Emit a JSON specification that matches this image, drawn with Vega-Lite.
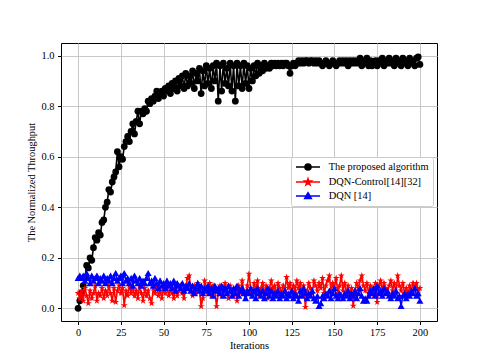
{
"$schema": "https://vega.github.io/schema/vega-lite/v6.json",
"width": 376, "height": 278,
"autosize": {"type": "none"},
"padding": {"left": 61, "top": 43, "right": 48, "bottom": 40},
"background": "white",
"config": {"font": "Liberation Serif", "view": {"stroke": "black", "strokeWidth": 1}},
"data": {"values": [
{"x":0,"p":0.00,"c":0.06,"d":0.12},{"x":1,"p":0.03,"c":0.04,"d":0.13},{"x":2,"p":0.06,"c":0.07,"d":0.12},{"x":3,"p":0.09,"c":0.03,"d":0.13},{"x":4,"p":0.12,"c":0.08,"d":0.11},
{"x":5,"p":0.17,"c":0.05,"d":0.14},{"x":6,"p":0.16,"c":0.02,"d":0.12},{"x":7,"p":0.20,"c":0.07,"d":0.10},{"x":8,"p":0.19,"c":0.04,"d":0.13},{"x":9,"p":0.24,"c":0.06,"d":0.11},
{"x":10,"p":0.28,"c":0.09,"d":0.12},{"x":11,"p":0.27,"c":0.03,"d":0.13},{"x":12,"p":0.30,"c":0.06,"d":0.10},{"x":13,"p":0.29,"c":0.05,"d":0.12},{"x":14,"p":0.34,"c":0.08,"d":0.11},
{"x":15,"p":0.35,"c":0.04,"d":0.13},{"x":16,"p":0.40,"c":0.07,"d":0.10},{"x":17,"p":0.42,"c":0.05,"d":0.12},{"x":18,"p":0.47,"c":0.09,"d":0.11},{"x":19,"p":0.46,"c":0.06,"d":0.13},
{"x":20,"p":0.50,"c":0.03,"d":0.10},{"x":21,"p":0.52,"c":0.08,"d":0.12},{"x":22,"p":0.54,"c":0.025,"d":0.14},{"x":23,"p":0.62,"c":0.07,"d":0.11},{"x":24,"p":0.56,"c":0.09,"d":0.12},
{"x":25,"p":0.60,"c":0.06,"d":0.13},{"x":26,"p":0.59,"c":0.08,"d":0.10},{"x":27,"p":0.64,"c":0.012,"d":0.14},{"x":28,"p":0.66,"c":0.07,"d":0.11},{"x":29,"p":0.68,"c":0.05,"d":0.12},
{"x":30,"p":0.66,"c":0.09,"d":0.10},{"x":31,"p":0.70,"c":0.06,"d":0.12},{"x":32,"p":0.73,"c":0.08,"d":0.09},{"x":33,"p":0.69,"c":0.05,"d":0.13},{"x":34,"p":0.74,"c":0.07,"d":0.11},
{"x":35,"p":0.78,"c":0.04,"d":0.10},{"x":36,"p":0.73,"c":0.09,"d":0.12},{"x":37,"p":0.78,"c":0.06,"d":0.09},{"x":38,"p":0.77,"c":0.03,"d":0.11},{"x":39,"p":0.79,"c":0.08,"d":0.10},
{"x":40,"p":0.78,"c":0.05,"d":0.12},{"x":41,"p":0.82,"c":0.07,"d":0.14},{"x":42,"p":0.81,"c":0.04,"d":0.10},{"x":43,"p":0.83,"c":0.02,"d":0.11},{"x":44,"p":0.82,"c":0.08,"d":0.09},
{"x":45,"p":0.84,"c":0.06,"d":0.12},{"x":46,"p":0.86,"c":0.09,"d":0.10},{"x":47,"p":0.83,"c":0.05,"d":0.08},{"x":48,"p":0.85,"c":0.07,"d":0.11},{"x":49,"p":0.86,"c":0.04,"d":0.09},
{"x":50,"p":0.84,"c":0.08,"d":0.10},{"x":51,"p":0.87,"c":0.06,"d":0.08},{"x":52,"p":0.86,"c":0.09,"d":0.11},{"x":53,"p":0.88,"c":0.05,"d":0.09},{"x":54,"p":0.85,"c":0.07,"d":0.10},
{"x":55,"p":0.89,"c":0.06,"d":0.08},{"x":56,"p":0.87,"c":0.04,"d":0.11},{"x":57,"p":0.90,"c":0.08,"d":0.07},{"x":58,"p":0.86,"c":0.05,"d":0.10},{"x":59,"p":0.91,"c":0.07,"d":0.09},
{"x":60,"p":0.88,"c":0.09,"d":0.08},{"x":61,"p":0.92,"c":0.06,"d":0.10},{"x":62,"p":0.87,"c":0.04,"d":0.07},{"x":63,"p":0.93,"c":0.08,"d":0.09},{"x":64,"p":0.88,"c":0.12,"d":0.08},
{"x":65,"p":0.92,"c":0.13,"d":0.10},{"x":66,"p":0.89,"c":0.07,"d":0.07},{"x":67,"p":0.94,"c":0.05,"d":0.09},{"x":68,"p":0.87,"c":0.09,"d":0.06},{"x":69,"p":0.93,"c":0.06,"d":0.08},
{"x":70,"p":0.90,"c":0.10,"d":0.10},{"x":71,"p":0.95,"c":0.07,"d":0.07},{"x":72,"p":0.85,"c":0.008,"d":0.09},{"x":73,"p":0.94,"c":0.04,"d":0.06},{"x":74,"p":0.88,"c":0.11,"d":0.08},
{"x":75,"p":0.96,"c":0.08,"d":0.07},{"x":76,"p":0.89,"c":0.06,"d":0.09},{"x":77,"p":0.95,"c":0.10,"d":0.06},{"x":78,"p":0.87,"c":0.05,"d":0.08},{"x":79,"p":0.96,"c":0.09,"d":0.05},
{"x":80,"p":0.90,"c":0.07,"d":0.09},{"x":81,"p":0.97,"c":0.008,"d":0.07},{"x":82,"p":0.82,"c":0.06,"d":0.08},{"x":83,"p":0.96,"c":0.09,"d":0.06},{"x":84,"p":0.86,"c":0.05,"d":0.09},
{"x":85,"p":0.97,"c":0.08,"d":0.05},{"x":86,"p":0.89,"c":0.10,"d":0.08},{"x":87,"p":0.95,"c":0.06,"d":0.06},{"x":88,"p":0.88,"c":0.04,"d":0.09},{"x":89,"p":0.97,"c":0.09,"d":0.07},
{"x":90,"p":0.86,"c":0.07,"d":0.05},{"x":91,"p":0.96,"c":0.05,"d":0.08},{"x":92,"p":0.82,"c":0.08,"d":0.06},{"x":93,"p":0.97,"c":0.03,"d":0.09},{"x":94,"p":0.88,"c":0.09,"d":0.05},
{"x":95,"p":0.96,"c":0.06,"d":0.07},{"x":96,"p":0.87,"c":0.11,"d":0.08},{"x":97,"p":0.97,"c":0.07,"d":0.06},{"x":98,"p":0.89,"c":0.05,"d":0.04},{"x":99,"p":0.96,"c":0.09,"d":0.07},
{"x":100,"p":0.87,"c":0.137,"d":0.06},{"x":101,"p":0.95,"c":0.08,"d":0.08},{"x":102,"p":0.90,"c":0.06,"d":0.05},{"x":103,"p":0.96,"c":0.10,"d":0.07},{"x":104,"p":0.92,"c":0.07,"d":0.04},
{"x":105,"p":0.97,"c":0.11,"d":0.08},{"x":106,"p":0.93,"c":0.05,"d":0.06},{"x":107,"p":0.96,"c":0.08,"d":0.05},{"x":108,"p":0.94,"c":0.10,"d":0.07},{"x":109,"p":0.97,"c":0.06,"d":0.04},
{"x":110,"p":0.95,"c":0.09,"d":0.06},{"x":111,"p":0.96,"c":0.04,"d":0.08},{"x":112,"p":0.95,"c":0.08,"d":0.05},{"x":113,"p":0.97,"c":0.11,"d":0.07},{"x":114,"p":0.96,"c":0.07,"d":0.04},
{"x":115,"p":0.97,"c":0.09,"d":0.06},{"x":116,"p":0.96,"c":0.05,"d":0.05},{"x":117,"p":0.97,"c":0.10,"d":0.07},{"x":118,"p":0.96,"c":0.08,"d":0.04},{"x":119,"p":0.97,"c":0.06,"d":0.06},
{"x":120,"p":0.96,"c":0.09,"d":0.05},{"x":121,"p":0.97,"c":0.07,"d":0.07},{"x":122,"p":0.97,"c":0.124,"d":0.04},{"x":123,"p":0.96,"c":0.08,"d":0.06},{"x":124,"p":0.93,"c":0.10,"d":0.05},
{"x":125,"p":0.96,"c":0.06,"d":0.07},{"x":126,"p":0.97,"c":0.09,"d":0.04},{"x":127,"p":0.96,"c":0.07,"d":0.06},{"x":128,"p":0.97,"c":0.11,"d":0.05},{"x":129,"p":0.98,"c":0.08,"d":0.03},
{"x":130,"p":0.97,"c":0.10,"d":0.07},{"x":131,"p":0.98,"c":0.06,"d":0.05},{"x":132,"p":0.97,"c":0.09,"d":0.08},{"x":133,"p":0.98,"c":0.005,"d":0.06},{"x":134,"p":0.98,"c":0.07,"d":0.04},
{"x":135,"p":0.97,"c":0.10,"d":0.06},{"x":136,"p":0.98,"c":0.08,"d":0.05},{"x":137,"p":0.98,"c":0.06,"d":0.07},{"x":138,"p":0.97,"c":0.11,"d":0.04},{"x":139,"p":0.98,"c":0.09,"d":0.03},
{"x":140,"p":0.97,"c":0.07,"d":0.05},{"x":141,"p":0.98,"c":0.10,"d":0.01},{"x":142,"p":0.97,"c":0.08,"d":0.02},{"x":143,"p":0.96,"c":0.12,"d":0.05},{"x":144,"p":0.97,"c":0.06,"d":0.04},
{"x":145,"p":0.98,"c":0.09,"d":0.06},{"x":146,"p":0.97,"c":0.11,"d":0.05},{"x":147,"p":0.96,"c":0.13,"d":0.07},{"x":148,"p":0.97,"c":0.07,"d":0.04},{"x":149,"p":0.98,"c":0.10,"d":0.06},
{"x":150,"p":0.97,"c":0.08,"d":0.08},{"x":151,"p":0.96,"c":0.12,"d":0.05},{"x":152,"p":0.97,"c":0.06,"d":0.04},{"x":153,"p":0.98,"c":0.09,"d":0.06},{"x":154,"p":0.97,"c":0.13,"d":0.05},
{"x":155,"p":0.98,"c":0.07,"d":0.04},{"x":156,"p":0.97,"c":0.10,"d":0.06},{"x":157,"p":0.98,"c":0.06,"d":0.05},{"x":158,"p":0.96,"c":0.09,"d":0.07},{"x":159,"p":0.98,"c":0.05,"d":0.04},
{"x":160,"p":0.97,"c":0.08,"d":0.06},{"x":161,"p":0.98,"c":0.01,"d":0.05},{"x":162,"p":0.97,"c":0.07,"d":0.07},{"x":163,"p":0.98,"c":0.10,"d":0.04},{"x":164,"p":0.97,"c":0.08,"d":0.06},
{"x":165,"p":0.99,"c":0.11,"d":0.08},{"x":166,"p":0.96,"c":0.13,"d":0.05},{"x":167,"p":0.98,"c":0.09,"d":0.03},{"x":168,"p":0.97,"c":0.07,"d":0.04},{"x":169,"p":0.99,"c":0.10,"d":0.03},
{"x":170,"p":0.96,"c":0.06,"d":0.05},{"x":171,"p":0.98,"c":0.09,"d":0.07},{"x":172,"p":0.96,"c":0.08,"d":0.06},{"x":173,"p":0.97,"c":0.05,"d":0.08},{"x":174,"p":0.98,"c":0.10,"d":0.05},
{"x":175,"p":0.96,"c":0.025,"d":0.09},{"x":176,"p":0.98,"c":0.09,"d":0.06},{"x":177,"p":0.97,"c":0.11,"d":0.07},{"x":178,"p":0.99,"c":0.07,"d":0.05},{"x":179,"p":0.96,"c":0.10,"d":0.08},
{"x":180,"p":0.98,"c":0.08,"d":0.06},{"x":181,"p":0.97,"c":0.06,"d":0.07},{"x":182,"p":0.99,"c":0.09,"d":0.05},{"x":183,"p":0.97,"c":0.11,"d":0.04},{"x":184,"p":0.98,"c":0.07,"d":0.06},
{"x":185,"p":0.96,"c":0.10,"d":0.05},{"x":186,"p":0.99,"c":0.06,"d":0.07},{"x":187,"p":0.97,"c":0.13,"d":0.04},{"x":188,"p":0.98,"c":0.09,"d":0.05},{"x":189,"p":0.96,"c":0.07,"d":0.01},
{"x":190,"p":0.99,"c":0.10,"d":0.05},{"x":191,"p":0.97,"c":0.06,"d":0.06},{"x":192,"p":0.98,"c":0.08,"d":0.04},{"x":193,"p":0.96,"c":0.05,"d":0.06},{"x":194,"p":0.99,"c":0.09,"d":0.05},
{"x":195,"p":0.97,"c":0.07,"d":0.07},{"x":196,"p":0.98,"c":0.10,"d":0.06},{"x":197,"p":0.96,"c":0.08,"d":0.08},{"x":198,"p":0.99,"c":0.10,"d":0.05},{"x":199,"p":0.995,"c":0.07,"d":0.06},
{"x":200,"p":0.965,"c":0.08,"d":0.03}
]},
"transform": [{"fold": ["p", "c", "d"], "as": ["series", "value"]}],
"encoding": {
  "x": {"field": "x", "type": "quantitative",
    "scale": {"domain": [-10, 210], "nice": false, "zero": false},
    "axis": {"title": "Iterations", "values": [0,25,50,75,100,125,150,175,200], "grid": true,
      "gridColor": "#c8c8c8", "gridWidth": 1, "domain": false, "tickColor": "black", "tickSize": 3.5,
      "labelFont": "Liberation Serif", "labelFontSize": 10.4, "labelColor": "black", "labelPadding": 3,
      "titleFont": "Liberation Serif", "titleFontSize": 10.4, "titleFontWeight": "normal", "titleColor": "black", "titlePadding": 3}},
  "y": {"field": "value", "type": "quantitative",
    "scale": {"domain": [-0.05, 1.05], "nice": false, "zero": false},
    "axis": {"title": "The Normalized Throughput", "values": [0,0.2,0.4,0.6,0.8,1.0], "format": ".1f", "grid": true,
      "gridColor": "#c8c8c8", "gridWidth": 1, "domain": false, "tickColor": "black", "tickSize": 3.5,
      "labelFont": "Liberation Serif", "labelFontSize": 10.4, "labelColor": "black", "labelPadding": 3.5,
      "titleFont": "Liberation Serif", "titleFontSize": 10.4, "titleFontWeight": "normal", "titleColor": "black", "titlePadding": 5}},
  "color": {"field": "series", "type": "nominal",
    "scale": {"domain": ["p", "c", "d"], "range": ["black", "red", "blue"]},
    "legend": {"orient": "none", "legendX": 230, "legendY": 114, "title": null,
      "labelExpr": "datum.value == 'p' ? 'The proposed algorithm' : datum.value == 'c' ? 'DQN-Control[14][32]' : 'DQN [14]'",
      "labelFont": "Liberation Serif", "labelFontSize": 10.4, "labelColor": "black", "labelOffset": 21.7,
      "strokeColor": "#cccccc", "fillColor": "white", "cornerRadius": 2, "padding": 4, "rowPadding": 1,
      "symbolSize": 100, "symbolStrokeWidth": 1.6,
      "encode": {"symbols": {"update": {
        "shape": {"signal": "datum.value == 'p' ? 'M-1,0L3.8,0M2.0,0A0.6,0.6,0,1,1,0.8,0A0.6,0.6,0,1,1,2.0,0Z' : datum.value == 'c' ? 'M-1,0L3.8,0M1.4,-0.65L1.546,-0.2L2.018,-0.2L1.636,0.077L1.782,0.526L1.4,0.248L1.018,0.526L1.164,0.077L0.782,-0.2L1.254,-0.2Z' : 'M-1,0L3.8,0M1.4,-0.65L2.05,0.48L0.75,0.48Z'"},
        "fill": {"signal": "scale('color', datum.value)"},
        "stroke": {"signal": "scale('color', datum.value)"},
        "strokeWidth": {"value": 1.6},
        "size": {"value": 100},
        "opacity": {"value": 1}}}}}}
},
"layer": [
  {"transform": [{"filter": "datum.series == 'p'"}],
   "mark": {"type": "line", "strokeWidth": 1.6, "point": {"shape": "circle", "size": 46, "filled": true, "opacity": 1}}},
  {"transform": [{"filter": "datum.series == 'c'"}],
   "mark": {"type": "line", "strokeWidth": 1.6, "point": {"shape": "M0,-1L0.225,-0.309L0.951,-0.309L0.363,0.118L0.588,0.809L0,0.382L-0.588,0.809L-0.363,0.118L-0.951,-0.309L-0.225,-0.309Z", "size": 52, "filled": true, "opacity": 1}}},
  {"transform": [{"filter": "datum.series == 'd'"}],
   "mark": {"type": "line", "strokeWidth": 1.6, "point": {"shape": "triangle-up", "size": 50, "filled": true, "opacity": 1}}}
]
}
